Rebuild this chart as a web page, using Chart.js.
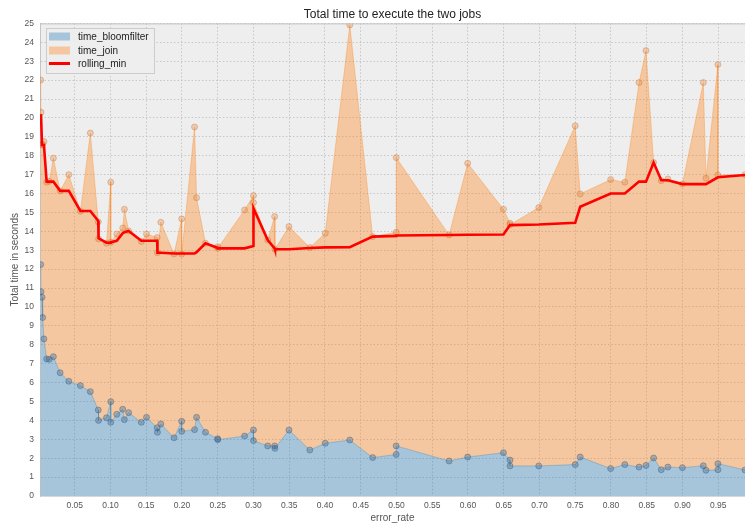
<!DOCTYPE html>
<html>
<head>
<meta charset="utf-8">
<title>Total time to execute the two jobs</title>
<script src="https://cdn.jsdelivr.net/npm/chart.js@4.4.1/dist/chart.umd.min.js"></script>
<style>
  html, body { margin: 0; padding: 0; background: #ffffff; overflow: hidden; }
  #wrap { width: 750px; height: 528px; }
</style>
</head>
<body>
<div id="wrap"><canvas id="area_chart" width="750" height="528"></canvas></div>
<script>
// error_rate (x) with the two stacked timings and the rolling minimum
let errorRate = [0.0023, 0.0028, 0.0042, 0.0051, 0.0069, 0.0107, 0.0143, 0.0201, 0.0296, 0.0417,
                 0.0579, 0.0718, 0.0829, 0.0833, 0.0944, 0.1004, 0.1004, 0.1088, 0.1171, 0.1194,
                 0.1254, 0.1431, 0.1504, 0.1653, 0.1657, 0.1704, 0.1889, 0.1996, 0.1996, 0.2176,
                 0.2204, 0.2329, 0.25, 0.25, 0.2875, 0.30, 0.30, 0.3199, 0.3296, 0.33,
                 0.3496, 0.3788, 0.4004, 0.4347, 0.4667, 0.4996, 0.4996, 0.5736, 0.5996, 0.6496,
                 0.6588, 0.6588, 0.699, 0.75, 0.757, 0.7996, 0.8194, 0.8393, 0.849, 0.8597,
                 0.8704, 0.8796, 0.90, 0.9292, 0.9329, 0.9496, 0.9496, 0.9875];

let timeBloomfilter = [12.24, 10.81, 10.51, 9.44, 8.31, 7.25, 7.23, 7.37, 6.52, 6.07,
                       5.84, 5.52, 4.55, 4.0, 4.14, 4.99, 3.9, 4.32, 4.59, 4.04,
                       4.41, 3.9, 4.16, 3.61, 3.37, 3.81, 3.08, 3.95, 3.42, 3.51,
                       4.16, 3.37, 3.03, 2.98, 3.17, 3.49, 2.93, 2.65, 2.65, 2.52,
                       3.49, 2.43, 2.79, 2.96, 2.03, 2.2, 2.65, 1.85, 2.06, 2.29,
                       1.9, 1.59, 1.59, 1.66, 2.06, 1.45, 1.66, 1.53, 1.62, 2.01,
                       1.39, 1.53, 1.5, 1.6, 1.36, 1.39, 1.71, 1.38];

// top of the orange band = time_bloomfilter + time_join
let timeTotal = [22.0, 20.3, 18.57, 18.6, 18.75, 16.6, 16.65, 17.87, 16.14, 17.0,
                 15.06, 19.2, 14.5, 13.6, 13.37, 16.6, 13.42, 13.86, 14.18, 15.17,
                 14.02, 13.46, 13.86, 13.67, 12.87, 14.48, 12.8, 14.66, 12.8, 19.52,
                 15.78, 13.37, 13.19, 13.1, 15.13, 15.89, 15.52, 13.54, 14.78, 13.05,
                 14.25, 13.14, 13.9, 24.92, 13.72, 13.95, 17.9, 13.81, 17.6, 15.17,
                 14.43, 14.35, 15.26, 19.58, 15.98, 16.74, 16.6, 21.87, 23.56, 17.64,
                 16.68, 16.77, 16.51, 21.87, 16.81, 22.82, 16.98, 17.0];

let rollingMin = [null, 20.2, 18.57, 18.57, 18.57, 16.63, 16.63, 16.63, 16.14, 16.14,
                  15.08, 15.08, 14.55, 13.63, 13.4, 13.4, 13.42, 13.5, 13.9, 13.95,
                  14.02, 13.5, 13.5, 13.5, 12.87, 12.87, 12.83, 12.83, 12.83, 12.83,
                  12.9, 13.37, 13.12, 13.1, 13.1, 13.22, 15.22, 13.54, 13.1, 13.05,
                  13.05, 13.12, 13.15, 13.16, 13.72, 13.76, 13.78, 13.81, 13.82, 13.83,
                  14.33, 14.33, 14.36, 14.45, 15.3, 16.0, 16.0, 16.63, 16.63, 17.64,
                  16.7, 16.7, 16.5, 16.5, 16.5, 16.86, 16.86, 16.98];

let xTicks = [0.05, 0.10, 0.15, 0.20, 0.25, 0.30, 0.35, 0.40, 0.45, 0.50,
              0.55, 0.60, 0.65, 0.70, 0.75, 0.80, 0.85, 0.90, 0.95];

const fontFamily = '"Liberation Sans", Arial, Helvetica, sans-serif';

function toPoints(values) {
    return errorRate.map((x, i) => ({ x: x, y: values[i] }));
}

// grey plot background, top spine and the legend box
const ggplotFrame = {
    id: 'ggplotFrame',
    beforeDraw(chart) {
        const ctx = chart.ctx;
        const a = chart.chartArea;
        ctx.save();
        ctx.fillStyle = '#eeeeee';
        ctx.fillRect(a.left, a.top, a.right - a.left, a.bottom - a.top);
        ctx.restore();
    },
    afterDraw(chart) {
        const ctx = chart.ctx;
        const a = chart.chartArea;
        ctx.save();
        ctx.strokeStyle = '#c4c4c4';
        ctx.lineWidth = 1;
        ctx.beginPath();
        ctx.moveTo(a.left, a.top + 0.5);
        ctx.lineTo(a.right, a.top + 0.5);
        ctx.stroke();

        // legend
        const x0 = 46, y0 = 28, w = 108, h = 45;
        ctx.fillStyle = '#eeeeee';
        ctx.fillRect(x0, y0, w, h);
        ctx.strokeStyle = '#cccccc';
        ctx.strokeRect(x0 + 0.5, y0 + 0.5, w, h);

        const sets = chart.data.datasets;
        const rows = [36.5, 50.5, 63.5];
        ctx.font = '10px ' + fontFamily;
        ctx.textBaseline = 'middle';
        for (let i = 0; i < sets.length; i++) {
            const y = rows[i];
            if (sets[i].fill) {
                ctx.fillStyle = sets[i].backgroundColor;
                ctx.fillRect(49, y - 4, 21, 8);
            } else {
                ctx.strokeStyle = sets[i].borderColor;
                ctx.lineWidth = 3;
                ctx.beginPath();
                ctx.moveTo(49, y);
                ctx.lineTo(70, y);
                ctx.stroke();
            }
            ctx.fillStyle = '#222222';
            ctx.fillText(sets[i].label, 78, y + 0.5);
        }
        ctx.restore();
    }
};

const config = {
    type: 'line',
    data: {
        datasets: [{
            label: 'time_bloomfilter',
            data: toPoints(timeBloomfilter),
            fill: 'origin',
            order: 2,
            backgroundColor: 'rgba(31, 119, 180, 0.35)',
            borderColor: 'rgba(31, 119, 180, 0.3)',
            borderWidth: 1,
            pointRadius: 3,
            pointBackgroundColor: 'rgba(60, 100, 140, 0.35)',
            pointBorderColor: 'rgba(60, 100, 140, 0.45)',
            pointBorderWidth: 1,
            tension: 0
        }, {
            label: 'time_join',
            data: toPoints(timeTotal),
            fill: '-1',
            order: 1,
            backgroundColor: 'rgba(255, 127, 14, 0.35)',
            borderColor: 'rgba(255, 127, 14, 0.3)',
            borderWidth: 1,
            pointRadius: 3,
            pointBackgroundColor: 'rgba(230, 130, 60, 0.32)',
            pointBorderColor: 'rgba(200, 120, 60, 0.4)',
            pointBorderWidth: 1,
            tension: 0
        }, {
            label: 'rolling_min',
            data: toPoints(rollingMin),
            fill: false,
            order: 0,
            borderColor: '#ff0000',
            borderWidth: 2.6,
            pointRadius: 0,
            tension: 0
        }]
    },
    options: {
        responsive: false,
        animation: false,
        devicePixelRatio: 1,
        layout: { padding: 0 },
        plugins: {
            legend: { display: false },
            tooltip: { enabled: false },
            filler: { drawTime: 'beforeDatasetsDraw' },
            title: {
                display: true,
                text: 'Total time to execute the two jobs',
                fullSize: false,
                color: '#222222',
                font: { family: fontFamily, size: 12, weight: 'normal' },
                padding: { top: 7, bottom: 2 }
            }
        },
        scales: {
            x: {
                type: 'linear',
                min: 0.0014,
                max: 0.9875,
                afterBuildTicks: function (scale) {
                    scale.ticks = xTicks.map(v => ({ value: v }));
                },
                afterFit: function (scale) { scale.height = 32; },
                ticks: {
                    autoSkip: false,
                    maxRotation: 0,
                    padding: 5,
                    color: '#555555',
                    font: { family: fontFamily, size: 8.5 },
                    callback: v => v.toFixed(2)
                },
                grid: { color: '#bdbdbd', lineWidth: 0.8, drawTicks: false },
                border: { display: true, color: '#d8d8d8', dash: [1.5, 2] },
                title: {
                    display: true,
                    text: 'error_rate',
                    color: '#555555',
                    font: { family: fontFamily, size: 10 },
                    padding: { top: 0, bottom: 4 }
                }
            },
            y: {
                min: 0,
                max: 25,
                afterFit: function (scale) { scale.width = 40; },
                ticks: {
                    stepSize: 1,
                    autoSkip: false,
                    padding: 6,
                    color: '#555555',
                    font: { family: fontFamily, size: 8.5 }
                },
                grid: { color: '#bdbdbd', lineWidth: 0.8, drawTicks: false },
                border: { display: true, color: '#c4c4c4', dash: [1.5, 2] },
                title: {
                    display: true,
                    text: 'Total time in seconds',
                    color: '#555555',
                    font: { family: fontFamily, size: 10 },
                    padding: { top: 9, bottom: 0 }
                }
            }
        }
    },
    plugins: [ggplotFrame]
};

new Chart(document.getElementById('area_chart').getContext('2d'), config);
</script>
</body>
</html>
